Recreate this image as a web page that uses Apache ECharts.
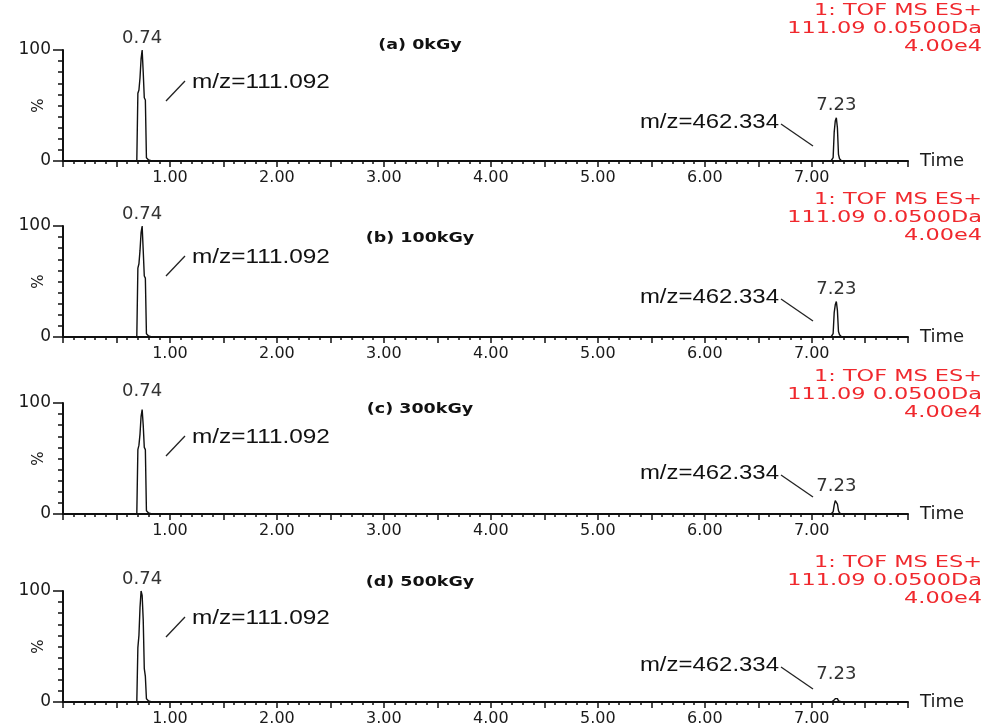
<!DOCTYPE html>
<html>
<head>
<meta charset="UTF-8">
<title></title>
<script src="https://cdn.jsdelivr.net/npm/echarts@6/dist/echarts.min.js"></script>
<style>
	html, body { width: 100%; height: 100%; margin: 0; padding: 0; background: #fff; }
	#chart { width: 987px; height: 727px; }
</style>
</head>
<body>
<div id="chart"></div>
<script>
	// data
	var panelTitles = ['(a) 0kGy', '(b) 100kGy', '(c) 300kGy', '(d) 500kGy'];
	var times = [0, 0.69, 0.70, 0.71, 0.72, 0.73, 0.74, 0.75, 0.76, 0.77, 0.78, 0.80, 0.83,
		7.18, 7.19, 7.20, 7.21, 7.22, 7.23, 7.24, 7.25, 7.26, 7.28, 7.87];
	var intensityA = [0, 0, 61, 64, 75, 92, 100, 80, 57, 55, 3, 1, 0, 0, 1, 3, 26, 36, 39, 30, 6, 2, 0, 0];
	var intensityB = [0, 0, 62, 66, 78, 94, 100, 78, 55, 53, 3, 1, 0, 0, 1, 3, 22, 29, 32, 24, 5, 2, 0, 0];
	var intensityC = [0, 0, 58, 62, 72, 88, 94, 80, 60, 58, 3, 1, 0, 0, 1, 2, 8, 12, 13, 9, 3, 1, 0, 0];
	var intensityD = [0, 0, 49, 60, 85, 100, 96, 74, 30, 23, 3, 1, 0, 0, 0, 1, 2, 3, 4, 3, 1, 0, 0, 0];
	var peakTimes = [0.74, 7.23];
	var peakHeights = [[100, 39], [100, 32], [94, 13], [100, 4]];
	var mzLabels = ['m/z=111.092', 'm/z=462.334'];
	var headerLines = ['1: TOF MS ES+', '111.09 0.0500Da', '4.00e4'];
	var yLabels = [0, 100];
	var allIntensity = [intensityA, intensityB, intensityC, intensityD];

	// layout
	var panelTops = [50, 226, 403, 591];
	var gridH = 111;
	var titleDy = [-5, 12, 6, -9];
	var headerDy = [-39, -26, -26, -28];
	var mz1Dy = [32, 31, 34, 27];
	var mz2Dy = [72, 71, 70, 74];

	var chart = echarts.init(document.getElementById('chart'));
	var grids = [], xAxes = [], yAxes = [], series = [], graphics = [];
	var tickFont = { fontFamily: 'DejaVu Sans', fontSize: 16, color: '#1a1a1a' };

	for (var i = 0; i < 4; i++) {
		grids.push({ left: 63, top: panelTops[i], width: 845, height: gridH, outerBoundsMode: 'none', containLabel: false });
		xAxes.push({
			gridIndex: i, type: 'value', position: 'bottom', min: 0, max: 7.9, interval: 0.1,
			axisLine: { show: true, lineStyle: { color: '#111', width: 2 } },
			axisTick: { length: 3, lineStyle: { color: '#111', width: 1.5 } },
			splitLine: { show: false },
			axisLabel: Object.assign({ margin: 9, formatter: function (v) {
				var r = Math.round(v);
				return (Math.abs(v - r) < 1e-6 && r > 0) ? r.toFixed(2) : '';
			} }, tickFont),
			name: 'Time', nameLocation: 'end', nameGap: 12, nameMoveOverlap: false,
			nameTextStyle: { fontFamily: 'DejaVu Sans', fontSize: 18, color: '#1a1a1a', verticalAlign: 'middle' }
		});
		xAxes.push({
			gridIndex: i, type: 'value', position: 'bottom', min: 0, max: 7.9, interval: 0.5,
			axisLine: { show: false },
			axisTick: { length: 6, lineStyle: { color: '#111', width: 1.5 } },
			axisLabel: { show: false }, splitLine: { show: false }
		});
		yAxes.push({
			gridIndex: i, type: 'value', position: 'left', min: 0, max: 100, interval: 10,
			axisLine: { show: true, lineStyle: { color: '#111', width: 2 } },
			axisTick: { length: 5, lineStyle: { color: '#111', width: 1.5 } },
			splitLine: { show: false },
			axisLabel: Object.assign({}, tickFont, { margin: 12, fontSize: 17, formatter: function (v) {
				return yLabels.indexOf(v) >= 0 ? String(v) : '';
			} }),
			name: '%', nameLocation: 'middle', nameGap: 16, nameRotate: 90, nameMoveOverlap: false,
			nameTextStyle: { fontFamily: 'DejaVu Sans', fontSize: 15, color: '#1a1a1a' }
		});
		yAxes.push({
			gridIndex: i, type: 'value', position: 'left', min: 0, max: 100, interval: 100,
			axisLine: { show: false },
			axisTick: { length: 10, lineStyle: { color: '#111', width: 1.5 } },
			axisLabel: { show: false }, splitLine: { show: false }
		});

		var vals = allIntensity[i];
		series.push({
			type: 'line', xAxisIndex: 2 * i, yAxisIndex: 2 * i,
			data: times.map(function (t, k) { return [t, vals[k]]; }),
			showSymbol: false, symbol: 'none',
			lineStyle: { color: '#111', width: 1.4 },
			markPoint: {
				symbol: 'rect', symbolSize: 0, silent: true,
				label: { show: true, position: 'top', distance: 3, formatter: '{b}',
					fontFamily: 'DejaVu Sans', fontSize: 18, color: '#333' },
				data: [
					{ name: peakTimes[0].toFixed(2), coord: [peakTimes[0], 100] },
					{ name: peakTimes[1].toFixed(2), coord: [peakTimes[1], Math.max(peakHeights[i][1], 14)] }
				]
			}
		});

		var panelTop = panelTops[i];
		graphics.push({
			type: 'text', x: 420, y: panelTop + titleDy[i], scaleX: 1.25,
			style: { text: panelTitles[i], x: 0, y: 0, textAlign: 'center', textVerticalAlign: 'middle',
				font: 'bold 14px "DejaVu Sans"', fill: '#111' }
		});
		headerLines.forEach(function (line, k) {
			graphics.push({
				type: 'text', x: 982, y: panelTop + headerDy[i] + k * 18, scaleX: 1.4,
				style: { text: line, x: 0, y: 0, textAlign: 'right', textVerticalAlign: 'middle',
					font: '16px "DejaVu Sans"', fill: '#f0282d' }
			});
		});
		graphics.push({
			type: 'text', x: 192, y: panelTop + mz1Dy[i], scaleX: 1.16,
			style: { text: mzLabels[0], x: 0, y: 0, textAlign: 'left', textVerticalAlign: 'middle',
				font: '21px "Liberation Sans"', fill: '#111' }
		});
		graphics.push({
			type: 'line', shape: { x1: 166, y1: panelTop + mz1Dy[i] + 19, x2: 185, y2: panelTop + mz1Dy[i] - 1 },
			style: { stroke: '#222', lineWidth: 1.3 }
		});
		graphics.push({
			type: 'text', x: 779, y: panelTop + mz2Dy[i], scaleX: 1.14,
			style: { text: mzLabels[1], x: 0, y: 0, textAlign: 'right', textVerticalAlign: 'middle',
				font: '21px "Liberation Sans"', fill: '#111' }
		});
		graphics.push({
			type: 'line', shape: { x1: 781, y1: panelTop + mz2Dy[i] + 2, x2: 813, y2: panelTop + mz2Dy[i] + 24 },
			style: { stroke: '#222', lineWidth: 1.3 }
		});
	}

	chart.setOption({
		animation: false,
		grid: grids,
		xAxis: xAxes,
		yAxis: yAxes,
		series: series,
		graphic: { elements: graphics }
	});
</script>
</body>
</html>
